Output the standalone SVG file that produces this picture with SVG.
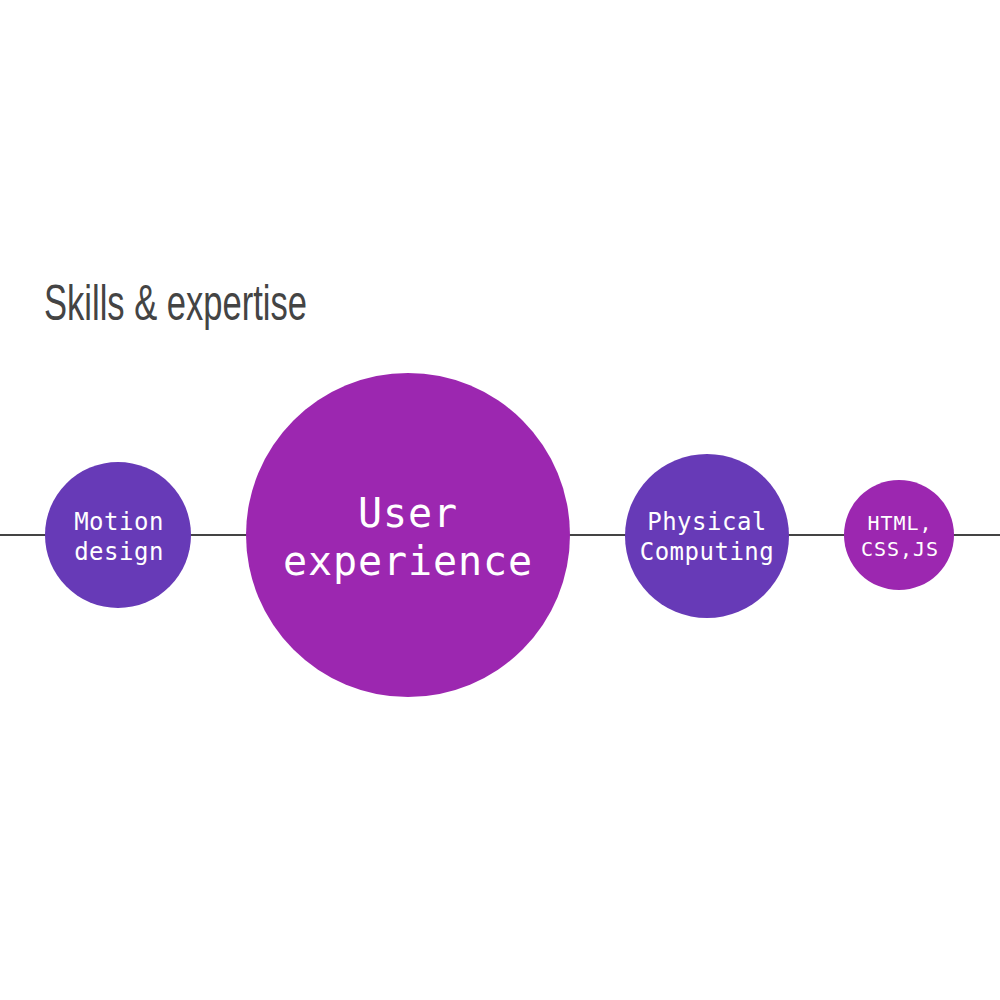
<svg xmlns="http://www.w3.org/2000/svg" width="1000" height="1000" viewBox="0 0 1000 1000">
<style>
.title{font-family:"Liberation Sans","DejaVu Sans",sans-serif;font-size:50px;fill:#444;}
.lbl{font-family:"DejaVu Sans Mono","Liberation Mono",monospace;fill:#fff;text-anchor:middle;}
.purple{fill:#9c27b0;}
.violet{fill:#673ab7;}
</style>
<rect width="1000" height="1000" fill="#fff"/>
<text class="title" x="44" y="320" textLength="263" lengthAdjust="spacingAndGlyphs">Skills &amp; expertise</text>
<g id="connectors">
<line x1="0" y1="535" x2="1000" y2="535" stroke="#444" stroke-width="2"/>
</g>
<g id="motion">
<circle class="violet" cx="118" cy="535" r="73"/>
<text class="lbl" x="119" y="530" font-size="24" letter-spacing="0.5">Motion</text>
<text class="lbl" x="119" y="560" font-size="24" letter-spacing="0.5">design</text>
</g>
<g id="ux">
<circle class="purple" cx="408" cy="535" r="162"/>
<text class="lbl" x="408" y="527" font-size="40" letter-spacing="0.9">User</text>
<text class="lbl" x="408" y="575" font-size="40" letter-spacing="0.9">experience</text>
</g>
<g id="physical">
<circle class="violet" cx="707" cy="536" r="82"/>
<text class="lbl" x="707" y="530" font-size="24" letter-spacing="0.5">Physical</text>
<text class="lbl" x="707" y="560" font-size="24" letter-spacing="0.5">Computing</text>
</g>
<g id="html">
<circle class="purple" cx="899" cy="535" r="55"/>
<text class="lbl" x="900" y="530" font-size="20" letter-spacing="1">HTML,</text>
<text class="lbl" x="900" y="556" font-size="20" letter-spacing="1">CSS,JS</text>
</g>
</svg>
